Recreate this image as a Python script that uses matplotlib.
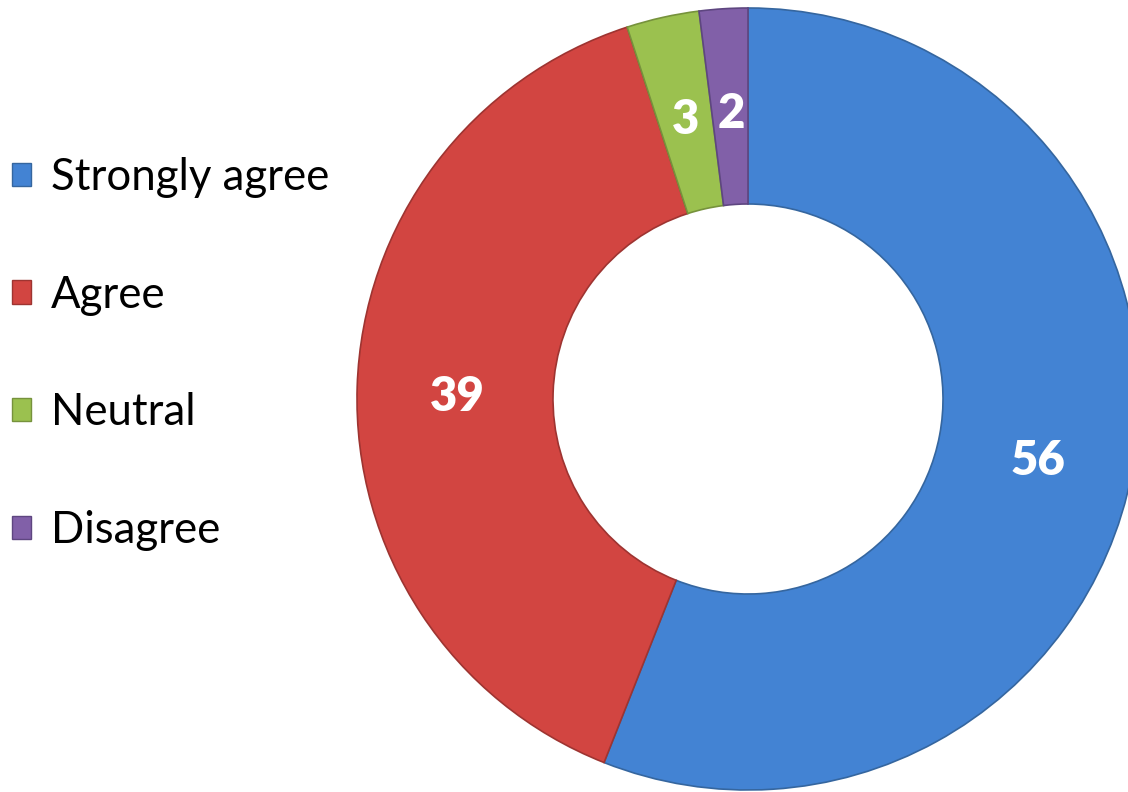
import numpy as np
import matplotlib.pyplot as plt
from matplotlib.patches import Patch

plt.rcParams['font.family'] = ['Lato', 'DejaVu Sans']

# survey responses (percent)
categories = ['Strongly agree', 'Agree', 'Neutral', 'Disagree']
values = [56, 39, 3, 2]
colors = ['#4383d3', '#d24541', '#9bc14f', '#8160a8']
edges = ['#35669f', '#9e3431', '#76923c', '#5e4680']

fig = plt.figure(figsize=(11.28, 7.92), dpi=100)
ax = fig.add_axes([0, 0, 1, 1])

wedges, texts = ax.pie(values, colors=colors, startangle=90, counterclock=False,
                       center=(748, 393), radius=391,
                       wedgeprops=dict(width=196, linewidth=1.2))
for w, ec in zip(wedges, edges):
    w.set_edgecolor(ec)

# pie() resets the limits, so set them afterwards
ax.set_xlim(0, 1128)
ax.set_ylim(0, 792)
ax.set_aspect('equal')
ax.axis('off')

# value labels in the middle of the ring
r_lab = 391 - 196 / 2
start = 90
total = sum(values)
for v in values:
    span = v / total * 360
    mid = np.deg2rad(start - span / 2)
    start -= span
    x = 748 + r_lab * np.cos(mid) + 2
    y = 393 + r_lab * np.sin(mid) - 7
    ax.text(x, y, str(v), ha='center', va='center', color='white',
            fontsize=34, fontweight='heavy')

handles = [Patch(facecolor=c, edgecolor=e, linewidth=1) for c, e in zip(colors, edges)]
leg = fig.legend(handles, categories, loc='center left', bbox_to_anchor=(-0.013, 0.553),
                 frameon=False, fontsize=31.5, handlelength=0.45, handleheight=0.45,
                 handletextpad=0.45, labelspacing=1.75, borderaxespad=0.2)

fig.savefig('out.png', dpi=100)
